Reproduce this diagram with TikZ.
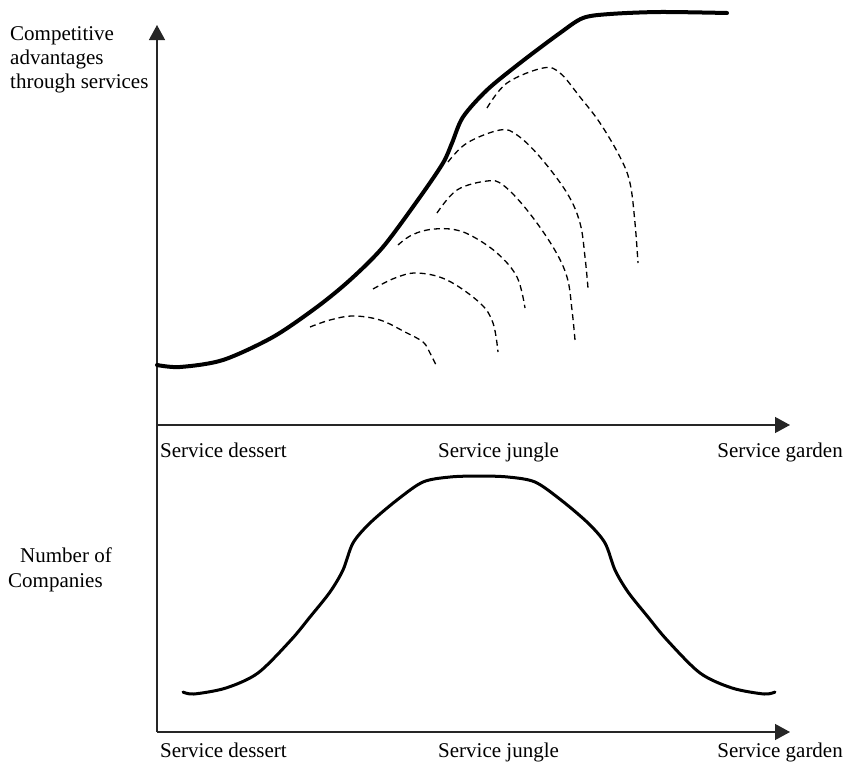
\documentclass[tikz,border=0pt]{standalone}
\usepackage{fontspec}
\setmainfont{Liberation Serif}
\usetikzlibrary{arrows.meta}
\begin{document}
\begin{tikzpicture}[x=1pt,y=-1pt,
  axis/.style={line width=1.3pt, draw=black!85, -{Triangle[length=15pt,width=16pt]}},
  plain axis/.style={line width=1.3pt, draw=black!85},
  lbl/.style={anchor=base west, inner sep=0pt, font=\fontsize{21}{24}\selectfont},
  main curve/.style={line width=4pt, line cap=round, line join=round},
  count curve/.style={line width=3pt, line cap=round, line join=round},
  option curve/.style={line width=1.3pt, dash pattern=on 6pt off 4pt}]
\useasboundingbox (0,0) rectangle (844,761);

% axes
\coordinate (O1) at (157,425);
\coordinate (Y1) at (157,25);
\coordinate (X1) at (790,425);
\coordinate (O2) at (157,732);
\coordinate (X2) at (790,732);
\draw[axis] (O1) -- (Y1);
\draw[axis] (O1) -- (X1);
\draw[plain axis] (O1) -- (O2);
\draw[axis] (O2) -- (X2);

% axis labels
\node[lbl] (ytop1) at (10,40) {Competitive};
\node[lbl] (ytop2) at (10,64) {advantages};
\node[lbl] (ytop3) at (10,88) {through services};
\node[lbl] (ybot1) at (20,562) {Number of};
\node[lbl] (ybot2) at (8,587) {Companies};

\node[lbl] (d1) at (160,457) {Service dessert};
\node[lbl] (j1) at (438,457) {Service jungle};
\node[lbl, anchor=base east] (g1) at (843,457) {Service garden};
\node[lbl] (d2) at (160,757) {Service dessert};
\node[lbl] (j2) at (438,757) {Service jungle};
\node[lbl, anchor=base east] (g2) at (843,757) {Service garden};

% competitive advantage envelope
\draw[main curve] plot[smooth, tension=0.5] coordinates {
  (157,365) (180,367) (223,360) (273,337) (317,307) (350,280) (383,247)
  (420,197) (443,163) (452,143) (463,117) (487,90) (520,63) (560,33)
  (583,18) (610,14) (660,12) (727,13)};

% individual service curves
\draw[option curve] plot[smooth, tension=0.6] coordinates {
  (310,327) (330,320) (353,316) (380,320) (405,332) (423,342) (430,353) (436,365)};
\draw[option curve] plot[smooth, tension=0.6] coordinates {
  (373,289) (395,278) (417,273) (447,280) (480,303) (493,323) (498,352)};
\draw[option curve] plot[smooth, tension=0.6] coordinates {
  (398,245) (410,236) (427,230) (450,229) (470,235) (497,253) (517,277) (525,308)};
\draw[option curve] plot[smooth, tension=0.6] coordinates {
  (437,213) (457,190) (487,181) (503,185) (527,210) (553,247) (567,277) (572,310) (575,340)};
\draw[option curve] plot[smooth, tension=0.6] coordinates {
  (448,162) (467,143) (500,130) (517,135) (540,157) (567,193) (580,223) (585,257) (588,288)};
\draw[option curve] plot[smooth, tension=0.6] coordinates {
  (487,108) (507,83) (543,68) (560,73) (580,97) (600,123) (620,157) (630,183) (635,223) (638,263)};

% number of companies
\draw[count curve] plot[smooth, tension=0.5] coordinates {
  (183,692) (194,694) (226,688) (258,673) (291,640) (310,617) (330,592)
  (343,570) (353,543) (370,523) (397,500) (423,482) (450,477) (479,476)
  (508,477) (535,482) (561,500) (588,523) (605,543) (615,570) (628,592)
  (648,617) (667,640) (700,673) (732,688) (764,694) (775,692)};
\end{tikzpicture}
\end{document}
